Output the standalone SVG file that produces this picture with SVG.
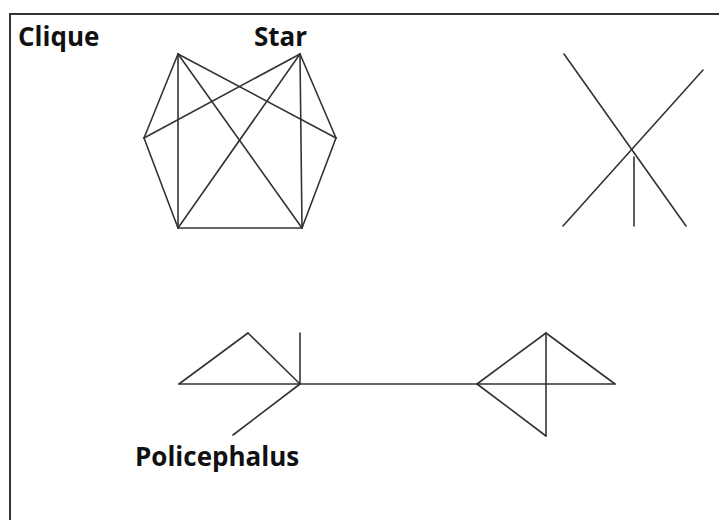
<svg xmlns="http://www.w3.org/2000/svg" width="719" height="520" viewBox="0 0 719 520">
<style>
.lbl{font-family:"Open Sans","Liberation Sans",sans-serif;font-weight:bold;font-size:26px;fill:#111}
.e{stroke:#333;stroke-width:1.6;fill:none;stroke-linecap:round}
.frame{stroke:#333;stroke-width:2;fill:none}
</style>
<rect width="719" height="520" fill="#fff"/>
<polyline class="frame" points="10,520 10,14 719,14"/>
<g id="labels">
<text class="lbl" x="18" y="46">Clique</text>
<text class="lbl" x="254" y="46">Star</text>
<text class="lbl" x="135" y="466">Policephalus</text>
</g>
<g id="clique">
<line class="e" x1="178" y1="54" x2="144" y2="138"/>
<line class="e" x1="178" y1="54" x2="178" y2="228"/>
<line class="e" x1="178" y1="54" x2="302" y2="228"/>
<line class="e" x1="178" y1="54" x2="336" y2="138"/>
<line class="e" x1="300" y1="54" x2="144" y2="138"/>
<line class="e" x1="300" y1="54" x2="178" y2="228"/>
<line class="e" x1="300" y1="54" x2="302" y2="228"/>
<line class="e" x1="300" y1="54" x2="336" y2="138"/>
<line class="e" x1="144" y1="138" x2="178" y2="228"/>
<line class="e" x1="336" y1="138" x2="302" y2="228"/>
<line class="e" x1="178" y1="228" x2="302" y2="228"/>
</g>
<g id="star">
<line class="e" x1="564" y1="54" x2="686" y2="226"/>
<line class="e" x1="703" y1="70" x2="563" y2="226"/>
<line class="e" x1="634" y1="157" x2="634" y2="226"/>
</g>
<g id="policephalus">
<line class="e" x1="179" y1="384" x2="248" y2="333"/>
<line class="e" x1="248" y1="333" x2="300" y2="384"/>
<line class="e" x1="179" y1="384" x2="300" y2="384"/>
<line class="e" x1="300" y1="333" x2="300" y2="384"/>
<line class="e" x1="300" y1="384" x2="233" y2="435"/>
<line class="e" x1="300" y1="384" x2="477" y2="384"/>
<line class="e" x1="477" y1="384" x2="546" y2="333"/>
<line class="e" x1="546" y1="333" x2="615" y2="384"/>
<line class="e" x1="477" y1="384" x2="615" y2="384"/>
<line class="e" x1="546" y1="333" x2="546" y2="436"/>
<line class="e" x1="477" y1="384" x2="546" y2="436"/>
</g>
</svg>
